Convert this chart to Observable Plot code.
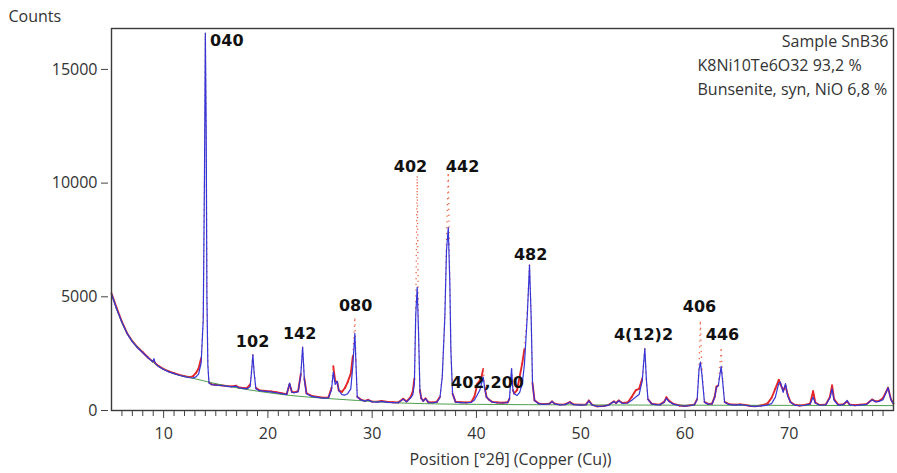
<!DOCTYPE html>
<html>
<head>
<meta charset="utf-8">
<script src="https://cdn.jsdelivr.net/npm/d3@7"></script>
<script src="https://cdn.jsdelivr.net/npm/@observablehq/plot@0.6"></script>
<style>
  html, body { margin: 0; padding: 0; background: #fff; }
  #chart svg { display: block; }
</style>
</head>
<body>
<div id="chart"></div>
<script>
// Powder diffraction pattern of sample SnB36: observed counts, Rietveld
// calculated profile and refined background, Cu radiation.

const twoTheta = [
  5.0, 5.5, 6.0, 6.5, 7.0, 7.5, 8.0, 8.5, 8.95, 9.07, 9.2, 9.5, 10.0, 10.5, 11.0, 11.5, 12.0, 12.5, 12.8, 13.1,
  13.35, 13.6, 13.8, 13.92, 14.0, 14.08, 14.15, 14.24, 14.35, 14.6, 15.0, 15.5, 16.0, 16.5, 16.95, 17.2, 17.6, 18.0, 18.3, 18.45,
  18.56, 18.68, 18.85, 19.2, 19.8, 20.3, 20.8, 21.3, 21.8, 22.08, 22.3, 22.5, 22.9, 23.15, 23.33, 23.5, 23.7, 24.2, 24.8, 25.3,
  25.8, 26.1, 26.27, 26.45, 26.65, 26.8, 27.1, 27.4, 27.65, 27.95, 28.15, 28.34, 28.45, 28.57, 28.9, 29.3, 29.6, 30.0, 30.5, 30.9,
  31.5, 32.0, 32.5, 32.98, 33.3, 33.7, 33.9, 34.05, 34.18, 34.32, 34.45, 34.58, 34.71, 34.9, 35.12, 35.4, 35.8, 36.2, 36.5, 36.72,
  36.97, 37.13, 37.3, 37.45, 37.55, 37.71, 38.0, 38.5, 39.0, 39.5, 39.8, 40.1, 40.33, 40.5, 40.65, 40.8, 40.97, 41.2, 41.5, 42.0,
  42.5, 43.0, 43.17, 43.37, 43.5, 43.62, 43.9, 44.15, 44.39, 44.6, 44.87, 45.09, 45.25, 45.38, 45.57, 46.0, 46.5, 47.0, 47.25, 47.5,
  48.0, 48.5, 48.96, 49.3, 50.0, 50.5, 50.78, 51.1, 51.6, 52.2, 52.7, 53.17, 53.4, 53.65, 54.0, 54.5, 54.9, 55.3, 55.6, 55.9,
  56.15, 56.3, 56.45, 56.8, 57.2, 57.6, 58.0, 58.22, 58.45, 58.9, 59.5, 60.0, 60.5, 60.9, 61.17, 61.35, 61.48, 61.62, 61.87, 62.2,
  62.6, 62.85, 63.02, 63.2, 63.47, 63.63, 63.8, 64.2, 64.8, 65.3, 65.8, 66.3, 66.8, 67.3, 67.9, 68.3, 68.67, 69.0, 69.16, 69.42,
  69.64, 69.85, 70.12, 70.5, 71.0, 71.5, 72.0, 72.29, 72.5, 72.9, 73.5, 73.9, 74.11, 74.3, 74.7, 75.2, 75.55, 75.8, 76.3, 76.8,
  77.4, 77.95, 78.3, 78.6, 79.0, 79.48, 79.75, 80.0
];

const observed = [
  5150, 4500, 3900, 3400, 3050, 2780, 2560, 2330, 2150, 2160, 2080, 1960, 1820, 1720, 1640, 1570, 1510, 1470, 1500, 1650,
  1850, 2300, 4200, 10000, 16600, 12000, 5500, 2200, 1250, 1150, 1130, 1110, 1080, 1060, 1090, 1010, 990, 980, 1150, 1900,
  2450, 1700, 1000, 880, 860, 840, 800, 760, 720, 1150, 820, 800, 850, 1600, 2780, 1400, 760, 640, 600, 560,
  560, 1000, 1950, 1300, 1250, 880, 820, 1000, 1250, 1620, 2400, 4050, 2200, 600, 480, 420, 470, 390, 390, 420,
  380, 360, 350, 515, 400, 600, 850, 1400, 4500, 10300, 3400, 900, 530, 420, 530, 360, 350, 380, 600, 1500,
  4200, 7500, 10400, 5600, 2650, 740, 380, 360, 350, 370, 600, 1180, 1320, 1500, 1830, 1000, 590, 480, 380, 350,
  340, 360, 520, 1830, 900, 750, 900, 1500, 2060, 2700, 4300, 6420, 4100, 1200, 450, 300, 280, 300, 400, 300,
  260, 270, 370, 270, 250, 260, 440, 250, 180, 200, 250, 400, 330, 440, 330, 350, 600, 900, 950, 1400,
  2720, 1400, 500, 300, 270, 260, 380, 580, 440, 290, 220, 200, 230, 260, 500, 2000, 3900, 1800, 380, 290,
  300, 600, 1050, 1100, 2700, 1300, 380, 280, 250, 270, 240, 200, 190, 220, 300, 550, 960, 1350, 1150, 880,
  1080, 700, 370, 250, 220, 240, 300, 850, 350, 240, 260, 600, 1100, 500, 250, 270, 400, 260, 230, 250,
  280, 480, 400, 420, 550, 1000, 500, 300
];

const calculated = [
  5130, 4450, 3880, 3380, 3020, 2760, 2540, 2320, 2150, 2280, 2060, 1940, 1800, 1700, 1620, 1550, 1490, 1440, 1430, 1480,
  1600, 2100, 4000, 10500, 16600, 12500, 5000, 2000, 1200, 1140, 1120, 1100, 1070, 1040, 1070, 1000, 975, 950, 1050, 1800,
  2460, 1650, 950, 870, 840, 820, 780, 740, 700, 1210, 800, 780, 820, 1550, 2790, 1350, 740, 620, 580, 540,
  550, 900, 1690, 1150, 1280, 880, 700, 680, 740, 950, 2000, 3380, 2000, 590, 470, 410, 460, 380, 370, 400,
  360, 350, 340, 500, 380, 560, 700, 1200, 4200, 5420, 3380, 880, 520, 410, 520, 350, 340, 370, 560, 1460,
  4100, 7040, 8040, 5580, 2640, 735, 365, 350, 340, 360, 450, 700, 900, 1200, 1470, 950, 585, 470, 370, 340,
  330, 350, 515, 1840, 880, 735, 660, 800, 1180, 2000, 4100, 6400, 4100, 1175, 440, 290, 270, 290, 396, 290,
  250, 260, 365, 260, 240, 250, 420, 240, 180, 190, 240, 396, 320, 430, 310, 330, 450, 600, 700, 1300,
  2720, 1350, 490, 290, 260, 250, 360, 540, 400, 280, 210, 190, 220, 250, 480, 1800, 2130, 1600, 365, 280,
  290, 580, 1020, 1100, 1940, 1200, 365, 270, 240, 260, 230, 190, 180, 200, 240, 300, 590, 1200, 1250, 800,
  1180, 650, 365, 240, 210, 230, 280, 585, 330, 230, 250, 550, 955, 450, 240, 260, 440, 250, 220, 240,
  270, 470, 380, 400, 480, 1000, 480, 290
];

// Refined background curve
const bgTheta  = [5.0, 6.2, 7.8, 9.4, 11.0, 12.6, 15.8, 19.0, 22.2, 25.3, 28.6, 31.1, 35, 40, 45, 50, 55, 60, 65, 70, 75, 80];
const bgCounts = [5130, 3660, 2640, 1980, 1615, 1440, 1100, 850, 660, 540, 440, 365, 300, 270, 255, 245, 240, 235, 230, 225, 220, 215];

// Reflection indices (hkl) of K8Ni10Te6O32
const hklText   = ["040", "102", "142", "080", "402", "442", "402,200", "482", "4(12)2", "406", "446"];
const hklTheta  = [16.06, 18.53, 23.04, 28.41, 33.68, 38.67, 41.06, 45.2, 56.02, 61.39, 63.6];
const hklCounts = [16234, 3036, 3388, 4619, 10735, 10735, 1232, 6863, 3344, 4575, 3344];

// Sample and phase quantification
const sampleName = "Sample SnB36";
const phaseLines = ["K8Ni10Te6O32 93,2 %", "Bunsenite, syn, NiO 6,8 %"];

const profile = twoTheta.map((t, i) => ({t, obs: observed[i], calc: calculated[i]}));
const background = bgTheta.map((t, i) => ({t, y: bgCounts[i]}));
const hkl = hklText.map((s, i) => ({s, t: hklTheta[i], y: hklCounts[i]}));

// Observed steps joined point to point; steep flanks are drawn dotted,
// as the scattered measurement points read there.
const segs = d3.pairs(profile).map(([a, b]) => ({
  x1: a.t, y1: a.obs, x2: b.t, y2: b.obs,
  steep: Math.abs(b.obs - a.obs) / (b.t - a.t) > 4000
}));

const legendText = (text, dx, dy, anchor) =>
  Plot.text([text], {frameAnchor: "top-right", dx, dy, text: d => d,
    textAnchor: anchor, lineAnchor: "middle", fontSize: 16, fill: "#333"});

const chart = Plot.plot({
  width: 897,
  height: 473,
  marginLeft: 111,
  marginRight: 4,
  marginTop: 28,
  marginBottom: 63,
  style: {fontFamily: "'Open Sans', sans-serif", fontSize: "16px", color: "#333", background: "#fff"},
  x: {domain: [5, 80]},
  y: {domain: [0, 16800]},
  marks: [
    Plot.link(segs.filter(d => !d.steep), {x1: "x1", y1: "y1", x2: "x2", y2: "y2",
      stroke: "#e2262a", strokeWidth: 1.9, strokeLinecap: "round"}),
    Plot.link(segs.filter(d => d.steep), {x1: "x1", y1: "y1", x2: "x2", y2: "y2",
      stroke: "#ee6a4c", strokeWidth: 1.3, strokeDasharray: "1.3 4.5"}),
    Plot.line(background, {x: "t", y: "y", stroke: "#4f9e4f", strokeWidth: 1, curve: "monotone-x"}),
    Plot.line(profile, {x: "t", y: "calc", stroke: "#3535d8", strokeWidth: 1.2}),
    Plot.text(hkl, {x: "t", y: "y", text: "s", fontFamily: "'DejaVu Sans', sans-serif",
      fontWeight: "bold", fontSize: 16, fill: "#111", lineAnchor: "middle"}),
    legendText(sampleName, -5, 13, "end"),
    legendText(phaseLines[0], -196, 37, "start"),
    legendText(phaseLines[1], -196, 61, "start"),
    Plot.frame({stroke: "#3a3a3a", strokeWidth: 1.4}),
    Plot.axisY({ticks: [0, 5000, 10000, 15000], tickSize: 7, tickPadding: 4, dx: -3,
      tickFormat: d => String(d), label: null, stroke: "#444"}),
    Plot.axisX({ticks: d3.range(10, 80, 10), tickSize: 7, tickPadding: 9, dy: 1,
      tickFormat: d => String(d), label: null, stroke: "#444"}),
    Plot.axisX({ticks: d3.range(6, 80, 1).filter(v => v % 10 !== 0), tickSize: 5, dy: 1,
      tickFormat: () => "", label: null, stroke: "#444"}),
    Plot.text(["Counts"], {frameAnchor: "top-left", dx: -103, dy: -12, text: d => d,
      textAnchor: "start", lineAnchor: "middle", fontSize: 16, fill: "#333"}),
    Plot.text(["Position [°2θ] (Copper (Cu))"], {frameAnchor: "bottom", dx: 8, dy: 49, text: d => d,
      textAnchor: "middle", lineAnchor: "middle", fontSize: 16, fill: "#333"})
  ]
});

document.getElementById("chart").appendChild(chart);
</script>
</body>
</html>
